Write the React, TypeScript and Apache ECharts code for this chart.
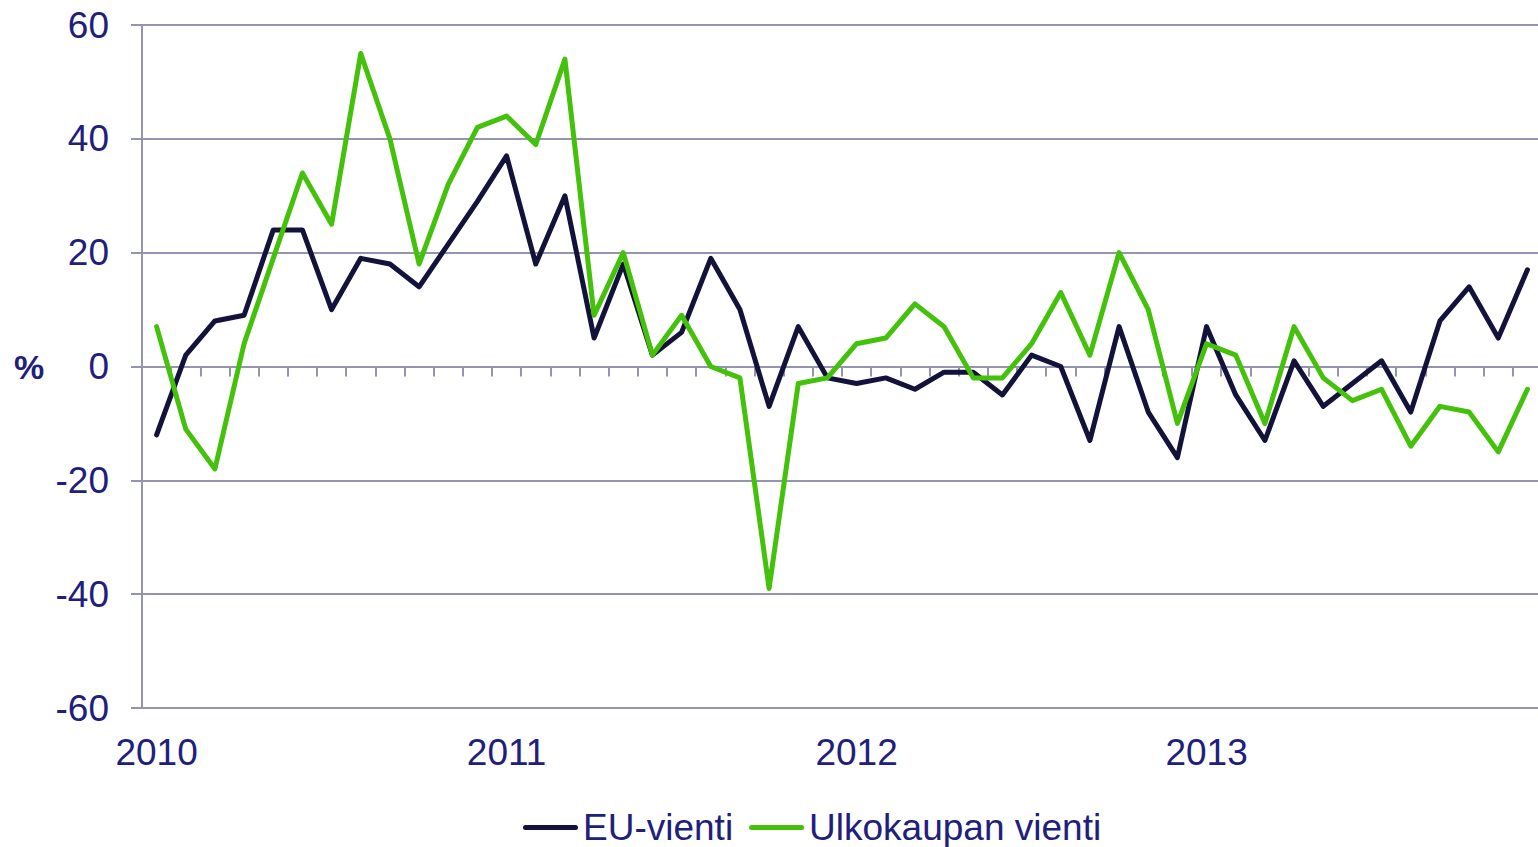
import React, { useEffect, useRef } from "react";
import * as echarts from "echarts";

const years = ["2010", "2011", "2012", "2013"];
const months = ["01", "02", "03", "04", "05", "06", "07", "08", "09", "10", "11", "12"];
const categories: string[] = years.flatMap((y) => months.map((m) => `${y}-${m}`));

const euVienti = [
  -12, 2, 8, 9, 24, 24, 10, 19, 18, 14, 21.5, 29,
  37, 18, 30, 5, 18, 2, 6, 19, 10, -7, 7, -2,
  -3, -2, -4, -1, -1, -5, 2, 0, -13, 7, -8, -16,
  7, -5, -13, 1, -7, -3, 1, -8, 8, 14, 5, 17,
];

const ulkokaupanVienti = [
  7, -11, -18, 4, 19, 34, 25, 55, 40, 18, 32, 42,
  44, 39, 54, 9, 20, 2, 9, 0, -2, -39, -3, -2,
  4, 5, 11, 7, -2, -2, 4, 13, 2, 20, 10, -10,
  4, 2, -10, 7, -2, -6, -4, -14, -7, -8, -15, -4,
];

const yTicks = { min: -60, max: 60, interval: 20 };

const FONT = "'Liberation Sans', Arial, sans-serif";
const TEXT = "#20207c";
const GRID = "#9494b2";
const NAVY = "#12123a";
const GREEN = "#44c10a";
const LEGEND_ICON =
  "path://M2.5,0 H52.5 A2.5,2.5 0 0 1 52.5,5 H2.5 A2.5,2.5 0 0 1 2.5,0 Z";

export default function App() {
  const ref = useRef<HTMLDivElement>(null);

  useEffect(() => {
    if (!ref.current) return;
    const chart = echarts.init(ref.current, undefined, { renderer: "svg" });
    chart.setOption({
      animation: false,
      textStyle: { fontFamily: FONT },
      grid: {
        left: 142,
        right: 0,
        top: 25,
        bottom: 139,
        containLabel: false,
        outerBoundsMode: "none",
      },
      legend: {
        left: 523,
        top: 809,
        padding: 0,
        itemWidth: 55,
        itemHeight: 5,
        itemGap: 16,
        icon: LEGEND_ICON,
        textStyle: { fontSize: 37, color: TEXT, fontFamily: FONT },
        data: ["EU-vienti", "Ulkokaupan vienti"],
      },
      graphic: [
        {
          type: "text",
          left: 14,
          top: 350,
          style: {
            text: "%",
            font: `bold 34px ${FONT}`,
            fill: TEXT,
          },
        },
      ],
      xAxis: [
        {
          type: "category",
          data: categories,
          position: "bottom",
          boundaryGap: true,
          axisLine: { show: false, onZero: false },
          axisTick: { show: false },
          splitLine: { show: false },
          axisLabel: {
            interval: (idx: number) => idx % 12 === 0,
            formatter: (v: string) => v.slice(0, 4),
            fontSize: 37,
            color: TEXT,
            fontFamily: FONT,
            margin: 26,
          },
        },
        {
          type: "category",
          data: categories,
          position: "top",
          boundaryGap: true,
          axisLine: { show: true, onZero: true, lineStyle: { color: GRID, width: 2 } },
          axisTick: {
            show: true,
            inside: true,
            length: 10,
            interval: 0,
            lineStyle: { color: GRID, width: 2 },
          },
          axisLabel: { show: false },
          splitLine: { show: false },
        },
      ],
      yAxis: {
        type: "value",
        min: yTicks.min,
        max: yTicks.max,
        interval: yTicks.interval,
        axisLine: { show: true, lineStyle: { color: GRID, width: 2 } },
        axisTick: { show: true, length: 11, lineStyle: { color: GRID, width: 2 } },
        axisLabel: { fontSize: 37, color: TEXT, fontFamily: FONT, margin: 33 },
        splitLine: { show: true, lineStyle: { color: GRID, width: 2 } },
      },
      series: [
        {
          name: "EU-vienti",
          type: "line",
          xAxisIndex: 0,
          data: euVienti,
          symbol: "none",
          lineStyle: { color: NAVY, width: 5, cap: "round", join: "round" },
          itemStyle: { color: NAVY },
          z: 3,
        },
        {
          name: "Ulkokaupan vienti",
          type: "line",
          xAxisIndex: 0,
          data: ulkokaupanVienti,
          symbol: "none",
          lineStyle: { color: GREEN, width: 5, cap: "round", join: "round" },
          itemStyle: { color: GREEN },
          z: 4,
        },
      ],
    });
    return () => chart.dispose();
  }, []);

  return (
    <div style={{ position: "fixed", left: 0, top: 0, width: 1538, height: 847, overflow: "hidden", background: "#fff" }}>
      <div ref={ref} style={{ width: 1542, height: 847 }} />
    </div>
  );
}
